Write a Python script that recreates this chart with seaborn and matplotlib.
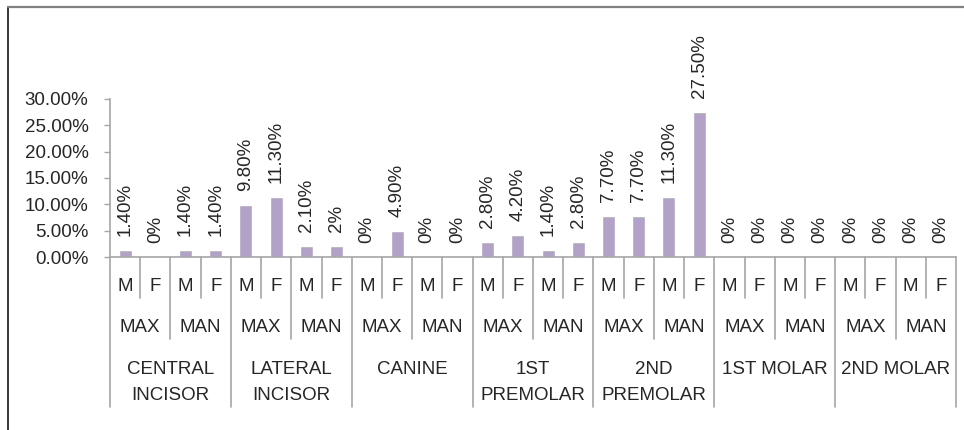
import pandas as pd
import numpy as np
import matplotlib.pyplot as plt
import seaborn as sns
from matplotlib.lines import Line2D
from matplotlib.ticker import FuncFormatter

# data
teeth = ["CENTRAL\nINCISOR", "LATERAL\nINCISOR", "CANINE", "1ST\nPREMOLAR",
         "2ND\nPREMOLAR", "1ST MOLAR", "2ND MOLAR"]
jaws = ["MAX", "MAN"]
sexes = ["M", "F"]
values = [1.4, 0, 1.4, 1.4,
          9.8, 11.3, 2.1, 2,
          0, 4.9, 0, 0,
          2.8, 4.2, 1.4, 2.8,
          7.7, 7.7, 11.3, 27.5,
          0, 0, 0, 0,
          0, 0, 0, 0]

W, H = 964, 430
BAR = "#b3a2c7"
GRID = "#a6a6a6"
TXT = "#262626"
FS = 13.5

def build_frame():
    rows = []
    for t in teeth:
        for j in jaws:
            for s in sexes:
                rows.append({"tooth": t, "jaw": j, "sex": s})
    df = pd.DataFrame(rows)
    df["value"] = values
    df["key"] = df["tooth"] + "|" + df["jaw"] + "|" + df["sex"]
    return df

def fmt_label(v):
    if v == int(v):
        return f"{v:.0f}%"
    return f"{v:.2f}%"

sns.set_style("white")
plt.rcParams["font.family"] = ["Liberation Sans", "DejaVu Sans"]
plt.rcParams["font.size"] = FS

df = build_frame()

fig = plt.figure(figsize=(W / 100, H / 100), dpi=100)
# axes box in pixels: x 110..956, y 99 (30%)..257 (0%)
ax_top, ax_bot = 99, 257
ax = fig.add_axes([110 / W, (H - ax_bot) / H, (956 - 110) / W, (ax_bot - ax_top) / H])

sns.barplot(data=df, x="key", y="value", order=list(df["key"]), color=BAR,
            saturation=1, width=0.43, errorbar=None, ax=ax)

ax.set_ylim(0, 30)
ax.set_yticks(np.arange(0, 31, 5))
ax.yaxis.set_major_formatter(FuncFormatter(lambda v, p: f"{v:.2f}%"))
ax.tick_params(axis="y", length=4.5, width=1, color=GRID, pad=11, labelcolor=TXT, labelsize=FS, left=True)
ax.set_xticks([])
ax.set_xlabel("")
ax.set_ylabel("")
for side in ["top", "right"]:
    ax.spines[side].set_visible(False)
for side in ["left", "bottom"]:
    ax.spines[side].set_color(GRID)
    ax.spines[side].set_linewidth(1.2)

# value labels above bars
for i, v in enumerate(df["value"]):
    ax.annotate(fmt_label(v), (i, v), xytext=(0, 14), textcoords="offset pixels",
                rotation=90, ha="center", va="bottom", color=TXT, fontsize=FS)

# multi level category axis below the plot
ah = ax_bot - ax_top
def yfrac(pix):
    return (ax_bot - pix) / ah

tr = ax.get_xaxis_transform()
n = len(df)
for i in range(n + 1):
    x = i - 0.5
    if i % 4 == 0:
        end = 407
    elif i % 2 == 0:
        end = 339
    else:
        end = 298
    ax.add_line(Line2D([x, x], [0, yfrac(end)], transform=tr, color=GRID,
                       lw=1.2, clip_on=False))

for i, s in enumerate(df["sex"]):
    ax.text(i, yfrac(291), s, transform=tr, ha="center", va="baseline", color=TXT, fontsize=FS)

for k in range(n // 2):
    ax.text(2 * k + 0.5, yfrac(332.5), df["jaw"].iloc[2 * k], transform=tr,
            ha="center", va="baseline", color=TXT, fontsize=FS)

for k, t in enumerate(teeth):
    for j, line in enumerate(t.split("\n")):
        ax.text(4 * k + 1.5, yfrac(374 + 26 * j), line, transform=tr,
                ha="center", va="baseline", color=TXT, fontsize=FS)

# outer chart frame (left and top edges visible)
fig.add_artist(Line2D([8 / W, 8 / W], [0, 1 - 7 / H], transform=fig.transFigure,
                      color="#262626", lw=1.3))
fig.add_artist(Line2D([8 / W, 1], [1 - 7 / H, 1 - 7 / H], transform=fig.transFigure,
                      color="#808080", lw=1.6))

fig.savefig("out.png", dpi=100)
